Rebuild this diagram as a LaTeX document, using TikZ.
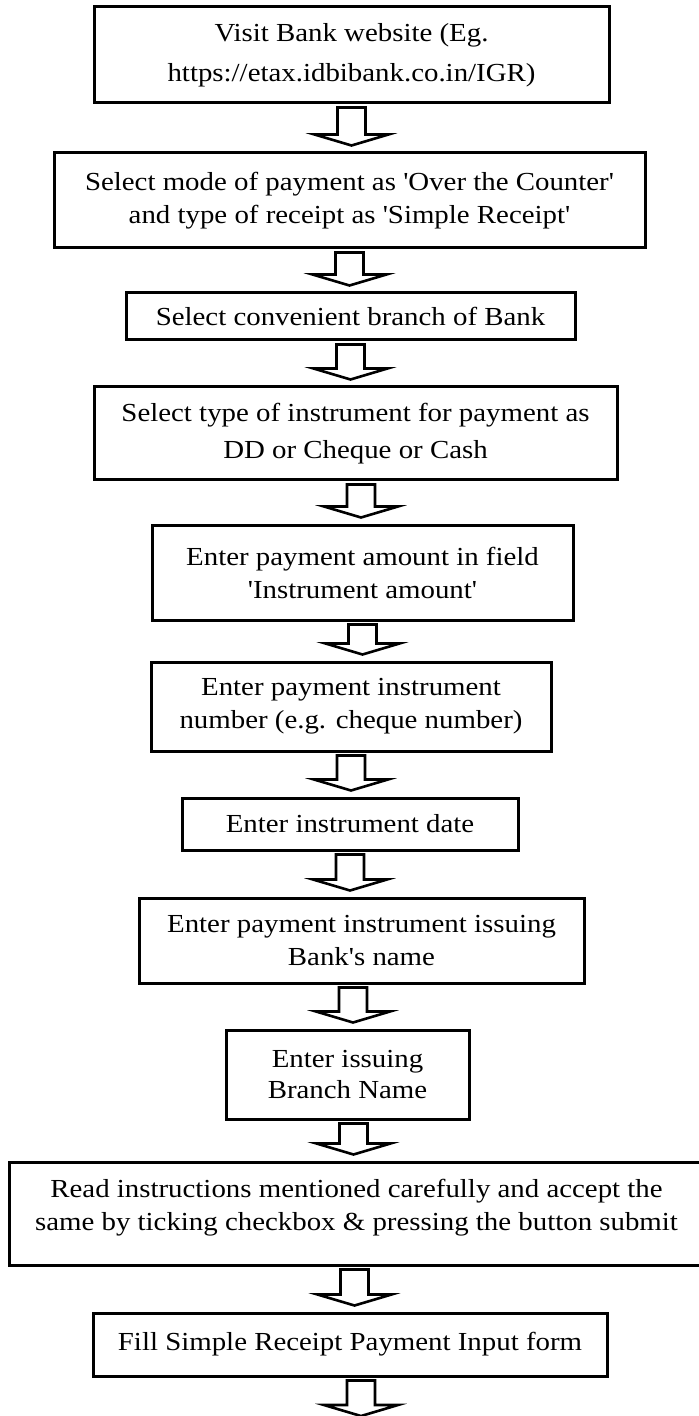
\documentclass[tikz,border=0pt]{standalone}
\usepackage{fontspec}
\setmainfont{Liberation Serif}[Ligatures=TeXOff, FakeStretch=1.11]
\usetikzlibrary{calc}
\tikzset{
  stepbox/.style={draw, rectangle, line width=1.5pt, inner sep=0pt, align=center,
    font=\fontsize{13}{16.5}\selectfont},
  blockarrow/.style={line width=1.3pt, line join=miter,
    to path={let \p1=(\tikztostart), \p2=(\tikztotarget) in
      (\x1-7pt,\y1-1.5pt) -- (\x1+7pt,\y1-1.5pt) -- (\x1+7pt,\y2+8.5pt)
      -- (\x1+18.5pt,\y2+8.5pt) -- (\x1,\y2+3pt) -- (\x1-18.5pt,\y2+8.5pt)
      -- (\x1-7pt,\y2+8.5pt) -- cycle}}
}
\begin{document}
\begin{tikzpicture}[x=0.5pt,y=-0.5pt]
\useasboundingbox (0,0) rectangle (699,1416);
\node[stepbox, minimum width=257.5pt, minimum height=48pt, font=\fontsize{13}{20}\selectfont] (b1) at (351.5,55)
  {Visit Bank website (Eg.\\https://etax.idbibank.co.in/IGR)};
\node[stepbox, minimum width=295.5pt, minimum height=47.5pt] (b2) at (349.5,200.5)
  {Select mode of payment as 'Over the Counter'\\and type of receipt as 'Simple Receipt'};
\node[stepbox, minimum width=224.5pt, minimum height=23.5pt] (b3) at (350.5,316.5)
  {Select convenient branch of Bank};
\node[stepbox, minimum width=261.5pt, minimum height=46.5pt, font=\fontsize{13}{18.5}\selectfont] (b4) at (355.5,433.5)
  {Select type of instrument for payment as\\DD or Cheque or Cash};
\node[stepbox, minimum width=210.5pt, minimum height=47.5pt] (b5) at (362.5,572.5)
  {Enter payment amount in field\\'Instrument amount'};
\node[stepbox, minimum width=200pt, minimum height=44.5pt] (b6) at (351,706.5)
  {Enter payment instrument\\number (e.g. cheque number)};
\node[stepbox, minimum width=168pt, minimum height=26pt] (b7) at (350,824)
  {Enter instrument date};
\node[stepbox, minimum width=222.5pt, minimum height=42.5pt] (b8) at (361.5,940.5)
  {Enter payment instrument issuing\\Bank's name};
\node[stepbox, minimum width=121.5pt, minimum height=44.5pt, font=\fontsize{13}{15.5}\selectfont] (b9) at (347.5,1074.5)
  {Enter issuing\\Branch Name};
\node[stepbox, minimum width=347.5pt, minimum height=51.5pt, text depth=9pt] (b10) at (356.5,1213.5)
  {Read instructions mentioned carefully and accept the\\same by ticking checkbox \& pressing the button submit};
\node[stepbox, minimum width=257pt, minimum height=31.5pt] (b11) at (350,1344.5)
  {Fill Simple Receipt Payment Input form};
\coordinate (end) at (361,1422);

\draw[blockarrow] (b1.south) to (b2.north);
\draw[blockarrow] (b2.south) to (b3.north);
\draw[blockarrow] (b3.south) to (b4.north);
\draw[blockarrow] ([xshift=2.75pt]b4.south) to (b5.north);
\draw[blockarrow] (b5.south) to (b6.north);
\draw[blockarrow] (b6.south) to (b7.north);
\draw[blockarrow] (b7.south) to (b8.north);
\draw[blockarrow] ([xshift=-4.25pt]b8.south) to (b9.north);
\draw[blockarrow] ([xshift=3pt]b9.south) to (b10.north);
\draw[blockarrow] ([xshift=-1pt]b10.south) to (b11.north);
\draw[blockarrow] ([xshift=5.5pt]b11.south) to (end);
\end{tikzpicture}
\end{document}
